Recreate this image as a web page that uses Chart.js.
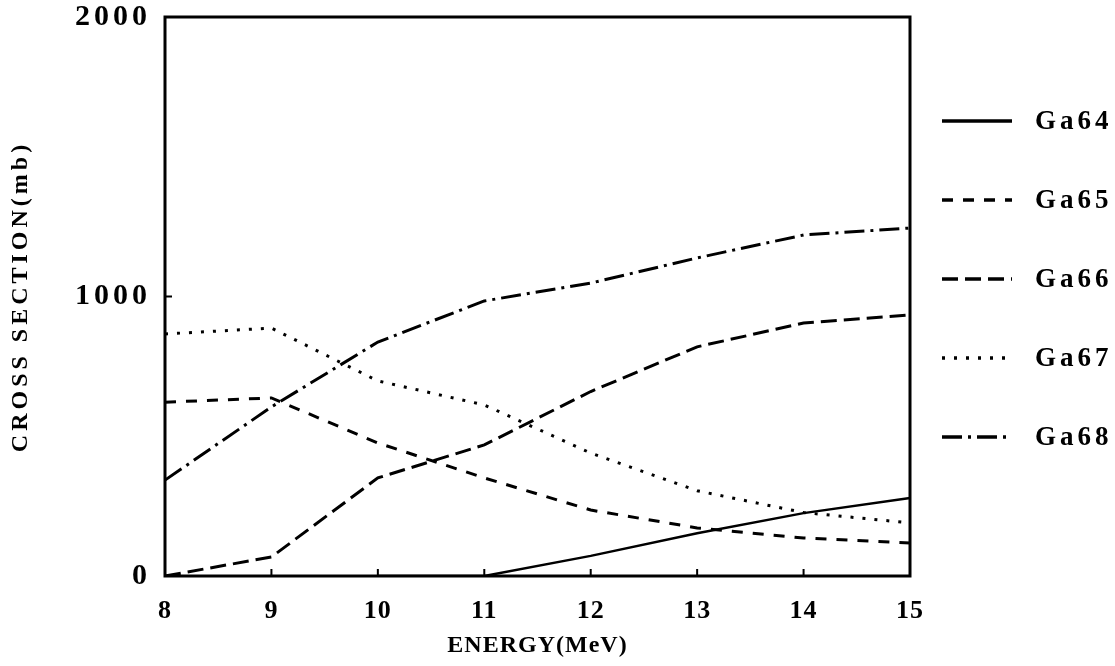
<!DOCTYPE html>
<html>
<head>
<meta charset="utf-8">
<script src="https://cdn.jsdelivr.net/npm/chart.js@4.4.1/dist/chart.umd.min.js"></script>
<style>
  html, body { margin: 0; padding: 0; background: #fff; }
  #wrap { width: 1115px; height: 666px; position: relative; }
</style>
</head>
<body>
<div id="wrap"><canvas id="c" width="1115" height="666"></canvas></div>
<script>
const energies = ['8', '9', '10', '11', '12', '13', '14', '15'];
const ga64 = [null, null, 0, 0, 72, 153, 225, 279];
const ga65 = [622, 637, 476, 351, 236, 172, 136, 118];
const ga66 = [0, 68, 351, 469, 660, 820, 905, 934];
const ga67 = [866, 887, 698, 612, 440, 305, 227, 190];
const ga68 = [343, 605, 837, 984, 1048, 1138, 1220, 1245];
const seriesNames = ['Ga64', 'Ga65', 'Ga66', 'Ga67', 'Ga68'];
const yTitle = 'CROSS SECTION(mb)';
const xTitle = 'ENERGY(MeV)';

const SERIF = '"Liberation Serif", "DejaVu Serif", serif';
const dashes = [[], [11, 10], [16, 7], [3, 9], [20, 6, 3, 6]];
const seriesData = [ga64, ga65, ga66, ga67, ga68];

// letter spacing per text element (the reference uses wide, typewriter-like spacing)
const spacing = { xTicks: '1px', yTicks: '4px', xTitle: '1px', yTitle: '4px', legend: '4px' };

function wrapScale(scale, tickLS, titleLS) {
  if (scale._lsWrapped) return;
  scale._lsWrapped = true;
  const dl = scale.drawLabels.bind(scale);
  const dt = scale.drawTitle.bind(scale);
  scale.drawLabels = function (area) {
    const ctx = this.ctx; const old = ctx.letterSpacing;
    ctx.letterSpacing = tickLS; dl(area); ctx.letterSpacing = old;
  };
  scale.drawTitle = function (area) {
    const ctx = this.ctx; const old = ctx.letterSpacing;
    ctx.letterSpacing = titleLS; dt(area); ctx.letterSpacing = old;
  };
}

const spacingPlugin = {
  id: 'spacing',
  afterLayout(chart) {
    wrapScale(chart.scales.x, spacing.xTicks, spacing.xTitle);
    wrapScale(chart.scales.y, spacing.yTicks, spacing.yTitle);
  }
};

const framePlugin = {
  id: 'frame',
  afterDraw(chart) {
    const ctx = chart.ctx;
    const a = chart.chartArea;
    const xs = chart.scales.x, ys = chart.scales.y;
    ctx.save();
    ctx.strokeStyle = '#000';
    ctx.setLineDash([]);
    ctx.lineWidth = 3;
    ctx.strokeRect(a.left, a.top, a.right - a.left, a.bottom - a.top);
    ctx.lineWidth = 2;
    ctx.beginPath();
    xs.ticks.forEach((t, i) => {
      if (i === 0 || i === xs.ticks.length - 1) return;
      const px = xs.getPixelForTick(i);
      ctx.moveTo(px, a.bottom);
      ctx.lineTo(px, a.bottom - 7);
    });
    ys.ticks.forEach((t, i) => {
      if (i === 0 || i === ys.ticks.length - 1) return;
      const py = ys.getPixelForTick(i);
      ctx.moveTo(a.left, py);
      ctx.lineTo(a.left + 7, py);
    });
    ctx.stroke();

    // legend, built from the datasets
    ctx.letterSpacing = spacing.legend;
    ctx.font = 'bold 27px ' + SERIF;
    ctx.fillStyle = '#000';
    ctx.textBaseline = 'middle';
    ctx.textAlign = 'left';
    chart.data.datasets.forEach((ds, i) => {
      const y = 121 + i * 79;
      ctx.beginPath();
      ctx.lineWidth = 3.5;
      ctx.setLineDash(ds.borderDash || []);
      ctx.moveTo(942, y);
      ctx.lineTo(1012, y);
      ctx.stroke();
      ctx.setLineDash([]);
      ctx.fillText(ds.label, 1035, y + 1);
    });
    ctx.restore();
  }
};

new Chart(document.getElementById('c'), {
  type: 'line',
  data: {
    labels: energies,
    datasets: seriesNames.map((n, i) => ({
      label: n,
      data: seriesData[i],
      borderColor: '#000',
      backgroundColor: '#000',
      borderWidth: i === 0 ? 2.5 : 3,
      borderDash: dashes[i],
      borderCapStyle: 'butt',
      pointRadius: 0,
      tension: 0,
      fill: false,
      spanGaps: false
    }))
  },
  options: {
    responsive: false,
    animation: false,
    events: [],
    layout: { padding: { left: 0, top: 0, right: 205, bottom: 6 } },
    plugins: { legend: { display: false }, tooltip: { enabled: false } },
    scales: {
      x: {
        type: 'category',
        offset: false,
        grid: { display: false, drawTicks: false },
        border: { display: false },
        ticks: { color: '#000', padding: 20, font: { family: SERIF, size: 26, weight: 'bold' }, maxRotation: 0 },
        title: { display: true, text: xTitle, color: '#000', padding: { top: 4, bottom: 0 }, font: { family: SERIF, size: 24, weight: 'bold' } },
        afterFit(s) { s.height = 84; }
      },
      y: {
        min: 0, max: 2000,
        grid: { display: false, drawTicks: false },
        border: { display: false },
        ticks: { stepSize: 1000, color: '#000', padding: 14, callback: v => String(v), font: { family: SERIF, size: 30, weight: 'bold', lineHeight: 0.2 } },
        title: { display: true, text: yTitle, color: '#000', padding: { top: 6, bottom: 0 }, font: { family: SERIF, size: 24, weight: 'bold' } },
        afterFit(s) { s.width = 165; }
      }
    }
  },
  plugins: [spacingPlugin, framePlugin]
});
</script>
</body>
</html>
